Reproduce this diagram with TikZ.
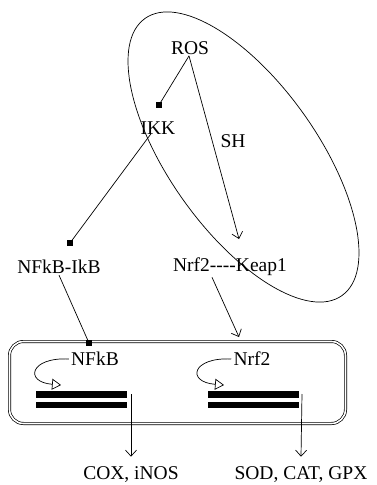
\documentclass[tikz,border=0pt]{standalone}
\usepackage{fontspec}
\setmainfont{Liberation Serif}
\usetikzlibrary{arrows.meta}

\begin{document}
\begin{tikzpicture}[x=1pt,y=-1pt,line width=0.7pt]

      \useasboundingbox (0,0) rectangle (377,485);

      \draw (243.5,157) ellipse [x radius=170pt, y radius=74pt, rotate=-54.6];

      \begin{scope}[every node/.style={inner sep=1pt,font=\fontsize{19.5}{22}\selectfont}]
        \node (ros)     at (190,48)  {ROS};
        \node (ikk)     at (158,128) {IKK};
        \node (sh)      at (233,141) {SH};
        \node (nfkbikb) at (59,267)  {NFkB-IkB};
        \node (nrfkeap) at (230,267) {Nrf2-{}-{}-{}-Keap1};
        \node (nfkb)    at (95,359)  {NFkB};
        \node (nrf)     at (252,359) {Nrf2};
        \node (cox)     at (131,475) {COX, iNOS};
        \node (sod)     at (301,475) {SOD, CAT, GPX};
      \end{scope}

      \node[draw,double,double distance=1.6pt,rounded corners=14pt,
            minimum width=336pt,minimum height=82pt] (nucleus) at (177.5,382.5) {};

      \begin{scope}[every node/.style={fill,inner sep=0pt,minimum size=6.5pt}]
        \node (ikkin)  at (159,105) {};
        \node (nfkbin) at (70,243)  {};
        \node (boxin1) at (89,343)  {};
      \end{scope}

      \coordinate (keapin) at (239,239);
      \coordinate (boxin2) at (239,337);
      \coordinate (out1)   at (131,394);
      \coordinate (out2)   at (302,394);

      % DNA
      \begin{scope}[every path/.style={fill}]
        \path (36,391) rectangle (127,397.5);
        \path (36,401.5) rectangle (127,408);
        \path (208,391) rectangle (299,397.5);
        \path (208,401.5) rectangle (299,408);
      \end{scope}

      \begin{scope}[every edge/.style={draw}]
        \path ([xshift=-1pt]ros.south) edge (ikkin.center);
        \path ([xshift=-7pt,yshift=2pt]ikk.south) edge (nfkbin.center);
        \path (nfkbikb.south) edge (boxin1.center);
      \end{scope}

      \begin{scope}[every edge/.style={draw,-{Straight Barb[length=6pt,width=11pt]}}]
        \path ([xshift=-1pt]ros.south) edge (keapin);
        \path ([xshift=-18pt]nrfkeap.south) edge (boxin2);
        \path (out1) edge ([yshift=9pt]cox.north);
        \path (out2) edge ([yshift=9pt]sod.north);
      \end{scope}

      \begin{scope}[-{Triangle[open,length=9pt,width=11pt]}]
        \draw ([xshift=-1pt]nfkb.west) .. controls (30,357) and (24,382) .. (61,385);
        \draw ([xshift=-1pt]nrf.west) .. controls (192,357) and (186,382) .. (224,385);
      \end{scope}

    \end{tikzpicture}
\end{document}
